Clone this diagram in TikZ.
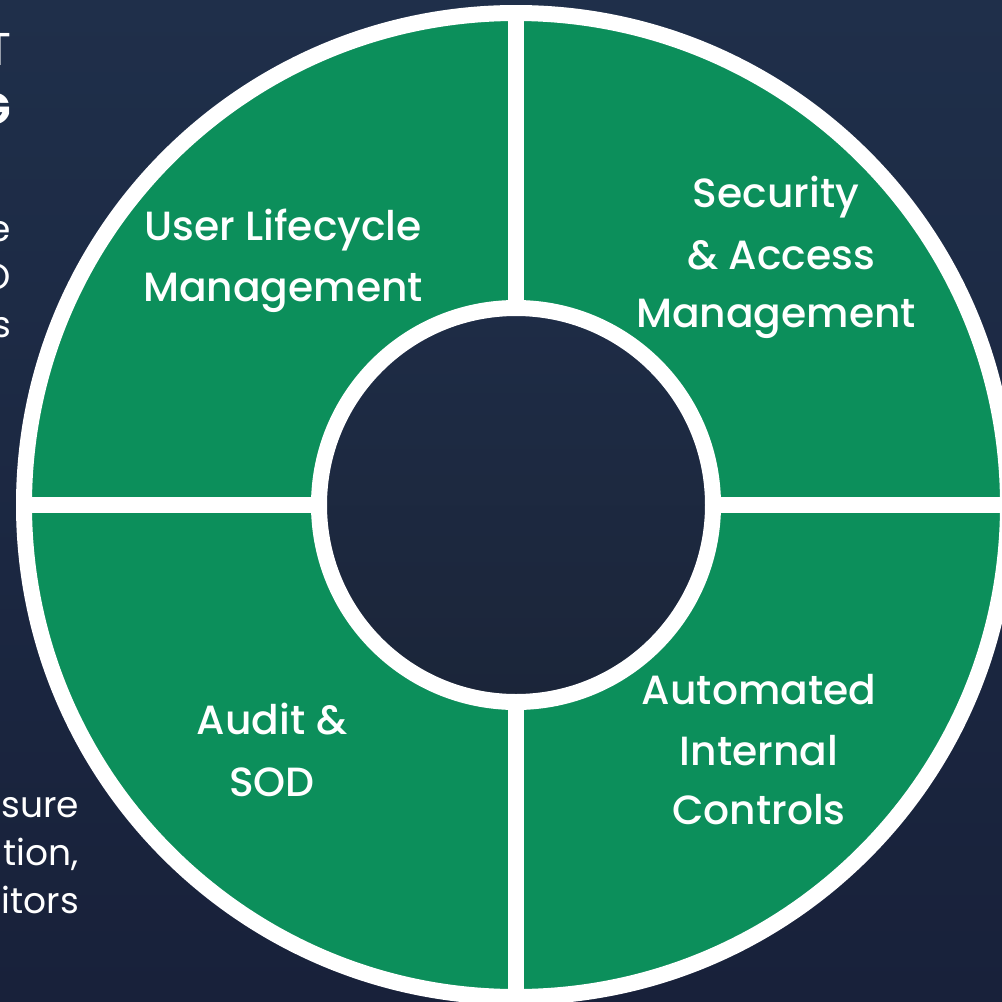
\documentclass[tikz,border=0pt]{standalone}
\usepackage{fontspec}
\setmainfont{Poppins}
\newfontfamily\medfont{Poppins Medium}
\usetikzlibrary{shadings}
\definecolor{slicegreen}{HTML}{0C8F5B}
\definecolor{bgtop}{HTML}{1F2F4A}
\definecolor{bgbot}{HTML}{18213A}
\definecolor{hubtop}{HTML}{1E2C46}
\definecolor{hubbot}{HTML}{1B2539}
\tikzset{
  x=1pt,y=-1pt,
  lbl/.style={text=white,font=\medfont\fontsize{40.8}{60}\selectfont,anchor=base,inner sep=0pt},
  side/.style={text=white,font=\fontsize{36}{48}\selectfont,anchor=base east,inner sep=0pt},
  ringline/.style={draw=white,line width=16pt},
}
\begin{document}
\begin{tikzpicture}
\useasboundingbox (0,0) rectangle (1002,1002);
\begin{scope}
\clip (0,0) rectangle (1002,1002);
\shade[top color=bgtop,bottom color=bgbot] (0,0) rectangle (1002,1002);
% clipped side texts
\node[text=white,font=\fontsize{46}{46}\selectfont,anchor=base east,inner sep=0pt] (tt) at (12,65) {T};
\node[text=white,font=\bfseries\fontsize{44}{44}\selectfont,anchor=base east,inner sep=0pt] (tg) at (11,124) {G};
\node[side] (s1) at (11,241) {e};
\node[side] (s2) at (11,289) {O};
\node[side] (s3) at (11,337) {s};
\node[side] (s4) at (79,817) {sure};
\node[side] (s5) at (79,865) {tion,};
\node[side] (s6) at (79,913) {itors};
% wheel
\fill[slicegreen] (516,505) circle[radius=492];
\draw[ringline] (516,505) circle[radius=492];
\draw[ringline] (516,5) -- (516,1005);
\draw[ringline] (16,505) -- (1016,505);
\shade[top color=hubtop,bottom color=hubbot] (516,505) circle[radius=197];
\draw[ringline] (516,505) circle[radius=197];
\end{scope}
\node[lbl] (a1) at (283,240) {User Lifecycle};
\node[lbl] (a2) at (283,301) {Management};
\node[lbl] (b1) at (776,207) {Security};
\node[lbl] (b2) at (781,269) {\&\ Access};
\node[lbl] (b3) at (776,327) {Management};
\node[lbl] (c1) at (272,734) {Audit \&};
\node[lbl] (c2) at (272,796) {SOD};
\node[lbl] (d1) at (759,704) {Automated};
\node[lbl] (d2) at (759,765) {Internal};
\node[lbl] (d3) at (759,824) {Controls};
\end{tikzpicture}
\end{document}
